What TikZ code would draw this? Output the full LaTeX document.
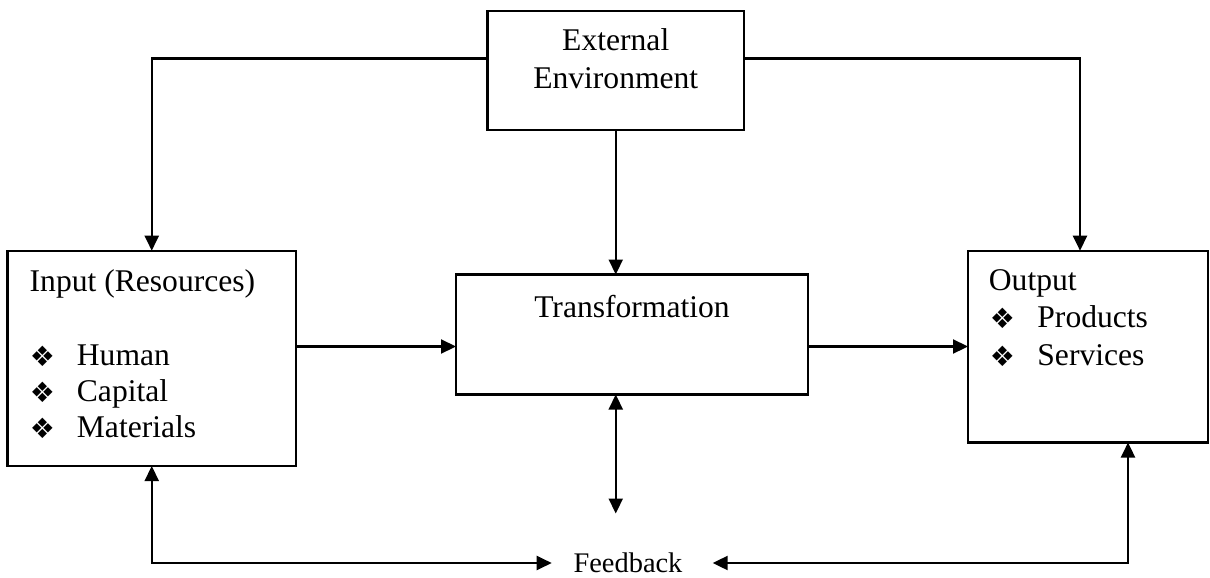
\documentclass[tikz,border=0pt]{standalone}
\usepackage{fontspec}
\setmainfont{Liberation Serif}
\newfontfamily\symfont{DejaVu Sans}
\usetikzlibrary{arrows.meta,calc}
\begin{document}
\begin{tikzpicture}[x=0.5pt,y=-0.5pt,
  box/.style={draw, line width=1.1pt, inner sep=0pt, outer sep=0pt},
  arr/.style={line width=1.1pt, -{Triangle[length=7.5pt,width=7pt]}},
  darr/.style={line width=1.1pt, {Triangle[length=7.5pt,width=7pt]}-{Triangle[length=7.5pt,width=7pt]}},
  txt/.style={font=\fontsize{15.8pt}{18pt}\selectfont, inner sep=0pt, anchor=base west},
  ctxt/.style={txt, anchor=base},
  fbtxt/.style={font=\fontsize{14.2pt}{17pt}\selectfont, inner sep=0pt, anchor=base},
  bul/.style={font=\symfont\fontsize{14pt}{14pt}\selectfont, inner sep=0pt}]
\useasboundingbox (0,0) rectangle (1210,578);

% boxes
\node[box, minimum width=128.25pt, minimum height=59.5pt] (ext) at (615.75,70.5) {};
\node[box, minimum width=144.25pt, minimum height=107.65pt] (inp) at (151.75,358.35) {};
\node[box, minimum width=176pt, minimum height=60pt] (trans) at (632,334.5) {};
\node[box, minimum width=120pt, minimum height=95.9pt] (out) at (1088,346.6) {};

% texts
\node[ctxt] (extA) at (615.75,50) {External};
\node[ctxt] (extB) at (615.75,88.5) {Environment};
\node[ctxt] (transT) at (632,317) {Transformation};
\node[txt] (inT) at (29.3,291) {Input (Resources)};
\node[bul] (b1) at (42.5,356) {❖};
\node[txt] (in1) at (76.5,365) {Human};
\node[bul] (b2) at (42.5,392) {❖};
\node[txt] (in2) at (76.5,401) {Capital};
\node[bul] (b3) at (42.5,428) {❖};
\node[txt] (in3) at (76.5,437.5) {Materials};
\node[txt] (outT) at (988.5,290) {Output};
\node[bul] (b4) at (1002.3,318) {❖};
\node[txt] (out1) at (1037,327.3) {Products};
\node[bul] (b5) at (1002.3,356) {❖};
\node[txt] (out2) at (1037,365) {Services};
\node[fbtxt] (fb) at (628,572) {Feedback};

% helper coordinates
\coordinate (hy) at (0,346.5);
\coordinate (fbL) at (551.7,563);
\coordinate (fbR) at (712.7,563);
\coordinate (tdown) at (615.75,513.5);

% connectors
\draw[arr] ($(ext.north west)!0.4!(ext.south west)$) -| (inp.north);
\draw[arr] ($(ext.north east)!0.4!(ext.south east)$) -| ($(out.north west)!0.4667!(out.north east)$);
\draw[arr] (ext.south) -- (ext.south |- trans.north);
\draw[arr] (inp.east |- hy) -- (trans.west |- hy);
\draw[arr] (trans.east |- hy) -- (out.west |- hy);
\draw[darr] (ext.south |- trans.south) -- (tdown);
\draw[darr] (inp.south) |- (fbL);
\draw[darr] ($(out.south west)!0.6667!(out.south east)$) |- (fbR);
\end{tikzpicture}
\end{document}
